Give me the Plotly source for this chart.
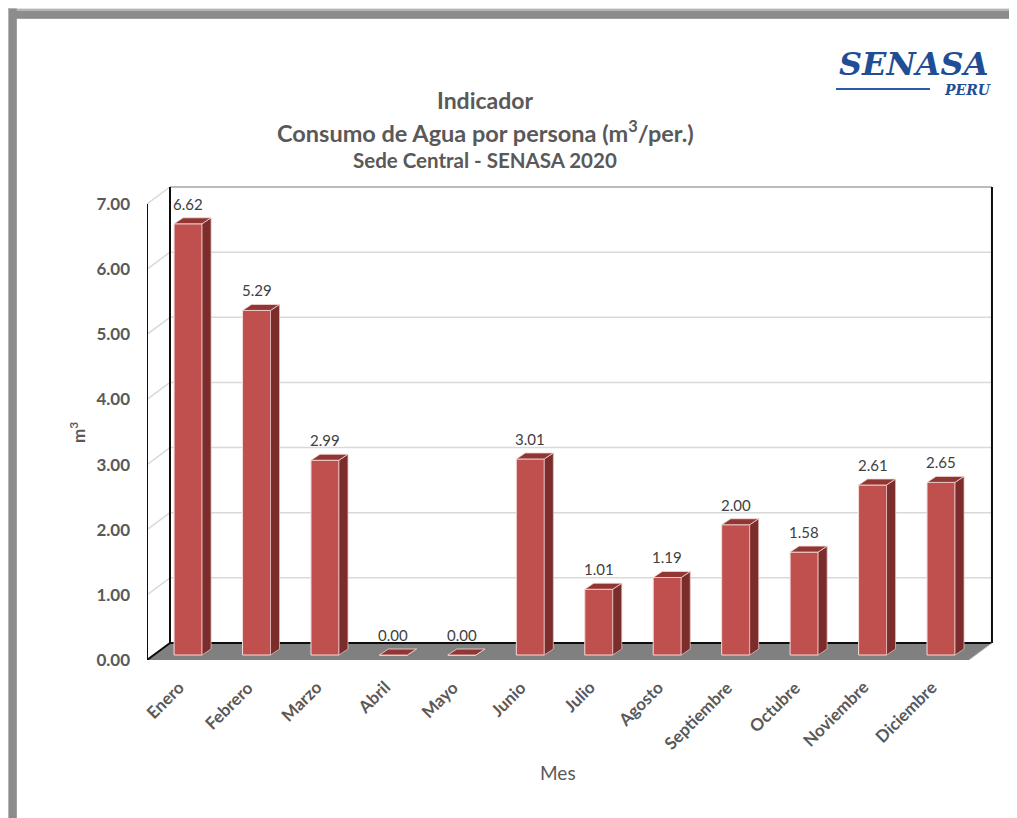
import plotly.graph_objects as go

# ---------------- data ----------------
months = ["Enero", "Febrero", "Marzo", "Abril", "Mayo", "Junio", "Julio",
          "Agosto", "Septiembre", "Octubre", "Noviembre", "Diciembre"]
consumo = [6.62, 5.29, 2.99, 0.00, 0.00, 3.01, 1.01, 1.19, 2.00, 1.58, 2.61, 2.65]
y_ticks = [0, 1, 2, 3, 4, 5, 6, 7]
y_ticktext = ["0.00", "1.00", "2.00", "3.00", "4.00", "5.00", "6.00", "7.00"]

# ---------------- geometry ----------------
OFF = 8                    # page body margin in the browser
W, H = 1017, 818
L, R, T, B = 147, 993, 180, 660          # plot area in page pixels
PX_PER_CAT = 68.45
PX_PER_UNIT = 65.14
XMIN = -0.6
XMAX = XMIN + (R - L) / PX_PER_CAT
YMAX = (B - T) / PX_PER_UNIT

WX = 23 / PX_PER_CAT      # depth offset of back wall (x)
WY = 17 / PX_PER_UNIT     # depth offset of back wall (y)
BAR_W = 28 / PX_PER_CAT
LIFT = 5 / PX_PER_UNIT
SDX = 9 / PX_PER_CAT
SDY = 6 / PX_PER_UNIT

XBR = XMAX - 0.015        # back right corner x
XFR = XBR - WX            # front right corner x
XBL = XMIN + WX           # back left x


def px(x):
    return (x - L) / (R - L)


def py(y):
    return (B - y) / (B - T)


FONT = "Lato"
GRAY = "#595959"
FRONT = "#C0504D"
SIDE = "#7A2D2B"
TOP = "#923634"

xs = list(range(len(months)))

fig = go.Figure()

# front faces
fig.add_trace(go.Bar(
    x=xs, y=consumo, base=LIFT, width=BAR_W,
    marker=dict(color=FRONT, line=dict(color="#F2DCDB", width=1)),
    hoverinfo="skip", showlegend=False,
))

# side and top faces (polygons derived from the data)
sx, sy, tx, ty = [], [], [], []
for xi, v in zip(xs, consumo):
    r = xi + BAR_W / 2
    lft = xi - BAR_W / 2
    top = v + LIFT
    sx += [r, r + SDX, r + SDX, r, r, None]
    sy += [LIFT, LIFT + SDY, top + SDY, top, LIFT, None]
    tx += [lft, r, r + SDX, lft + SDX, lft, None]
    ty += [top, top, top + SDY, top + SDY, top, None]

fig.add_trace(go.Scatter(x=sx, y=sy, mode="lines", fill="toself", fillcolor=SIDE,
                         line=dict(color="#E6B9B8", width=0.8), hoverinfo="skip",
                         showlegend=False))
fig.add_trace(go.Scatter(x=tx, y=ty, mode="lines", fill="toself", fillcolor=TOP,
                         line=dict(color="#F2DCDB", width=0.8), hoverinfo="skip",
                         showlegend=False))

shapes = []
# floor
shapes.append(dict(type="path", xref="x", yref="y", layer="below",
                   path=f"M {XMIN},0 L {XFR},0 L {XBR},{WY} L {XBL},{WY} Z",
                   fillcolor="#808080", line=dict(color="#808080", width=0)))
# back-wall gridlines + left wall diagonals
for k in y_ticks:
    if k == 0:
        continue
    shapes.append(dict(type="line", xref="x", yref="y", layer="below",
                       x0=XBL, y0=k + WY, x1=XBR, y1=k + WY,
                       line=dict(color="#A6A6A6" if k == 7 else "#D9D9D9", width=1.5)))
    shapes.append(dict(type="line", xref="x", yref="y", layer="below",
                       x0=XMIN, y0=k, x1=XBL, y1=k + WY,
                       line=dict(color="#D9D9D9", width=1.5)))
# black wall edges
edges = [
    (XMIN, 0, XMIN, 7),            # front axis
    (XBL, WY, XBL, 7 + WY),        # back-left edge
    (XBR, WY, XBR, 7 + WY),        # right edge
    (XBL, WY, XBR, WY),            # floor back edge
    (XMIN, 0, XBL, WY),            # floor left diagonal
]
for x0, y0, x1, y1 in edges:
    shapes.append(dict(type="line", xref="x", yref="y", layer="below",
                       x0=x0, y0=y0, x1=x1, y1=y1,
                       line=dict(color="#0D0D0D", width=2)))
shapes.append(dict(type="line", xref="x", yref="y", layer="below",
                   x0=XFR, y0=0, x1=XBR, y1=WY, line=dict(color="#BFBFBF", width=1)))

# outer frame (gray shadow border)
for (a, b, col) in [(4, 17, "#E3E3E3"), (7, 17, "#B5B5B5"), (9, 16.5, "#8C8C8C")]:
    shapes.append(dict(type="rect", xref="paper", yref="paper", layer="below",
                       x0=px(a), x1=px(b), y0=py(a), y1=py(H + 5),
                       fillcolor=col, line=dict(width=0)))
    shapes.append(dict(type="rect", xref="paper", yref="paper", layer="below",
                       x0=px(a), x1=px(W + 5), y0=py(a + 2), y1=py(b + 2),
                       fillcolor=col, line=dict(width=0)))
# logo line
shapes.append(dict(type="line", xref="paper", yref="paper",
                   x0=px(836), x1=px(930), y0=py(89), y1=py(89),
                   line=dict(color="#2A5AA8", width=2)))

annotations = []
# data labels
for xi, v in zip(xs, consumo):
    annotations.append(dict(x=xi, y=v + LIFT + SDY, xref="x", yref="y",
                            text=f"{v:.2f}", showarrow=False, yanchor="bottom",
                            yshift=3, font=dict(family=FONT, size=15, color="#404040")))
# category labels (rotated, right end just left of each bar centre)
for xi, m in zip(xs, months):
    annotations.append(dict(x=xi, y=py(674), xref="x", yref="paper",
                            text=f"<b>{m}</b>", textangle=-45, showarrow=False,
                            xanchor="right", yanchor="top", xshift=3,
                            font=dict(family=FONT, size=17, color=GRAY)))
# titles
title_lines = [
    ("Indicador", 100, 23),
    ("Consumo de Agua por persona (m<sup>3</sup>/per.)", 131, 23.5),
    ("Sede Central - SENASA 2020", 160, 20.5),
]
for txt, yc, sz in title_lines:
    annotations.append(dict(x=px(485), y=py(yc), xref="paper", yref="paper",
                            text=f"<b>{txt}</b>", showarrow=False,
                            xanchor="center", yanchor="middle",
                            font=dict(family=FONT, size=sz, color=GRAY)))
# axis titles
annotations.append(dict(x=px(77), y=py(433), xref="paper", yref="paper",
                        text="<b>m<sup>3</sup></b>", textangle=-90, showarrow=False,
                        xanchor="center", yanchor="middle",
                        font=dict(family=FONT, size=17, color=GRAY)))
annotations.append(dict(x=px(558), y=py(772), xref="paper", yref="paper",
                        text="Mes", showarrow=False, xanchor="center", yanchor="middle",
                        font=dict(family=FONT, size=19, color=GRAY)))
# logo
annotations.append(dict(x=px(914), y=py(64), xref="paper", yref="paper",
                        text="<b><i>SENASA</i></b>", showarrow=False,
                        xanchor="center", yanchor="middle",
                        font=dict(family="DejaVu Serif", size=32, color="#1F4E96")))
annotations.append(dict(x=px(967), y=py(90), xref="paper", yref="paper",
                        text="<b><i>PERU</i></b>", showarrow=False,
                        xanchor="center", yanchor="middle",
                        font=dict(family="DejaVu Serif", size=14, color="#1F4E96")))

fig.update_layout(
    width=W - OFF, height=H - OFF,
    margin=dict(l=L - OFF, r=W - R, t=T - OFF, b=H - B, pad=0),
    paper_bgcolor="white", plot_bgcolor="white",
    showlegend=False,
    shapes=shapes, annotations=annotations,
    xaxis=dict(range=[XMIN, XMAX], tickvals=xs, showticklabels=False,
               showgrid=False, zeroline=False, showline=False, ticks="",
               fixedrange=True),
    yaxis=dict(range=[0, YMAX], tickvals=y_ticks, ticktext=[f"<b>{t}</b>" for t in y_ticktext],
               showgrid=False, zeroline=False, showline=False, ticks="",
               ticklabelstandoff=16,
               tickfont=dict(family=FONT, size=17, color=GRAY), fixedrange=True),
)

fig.write_html("out.html")
